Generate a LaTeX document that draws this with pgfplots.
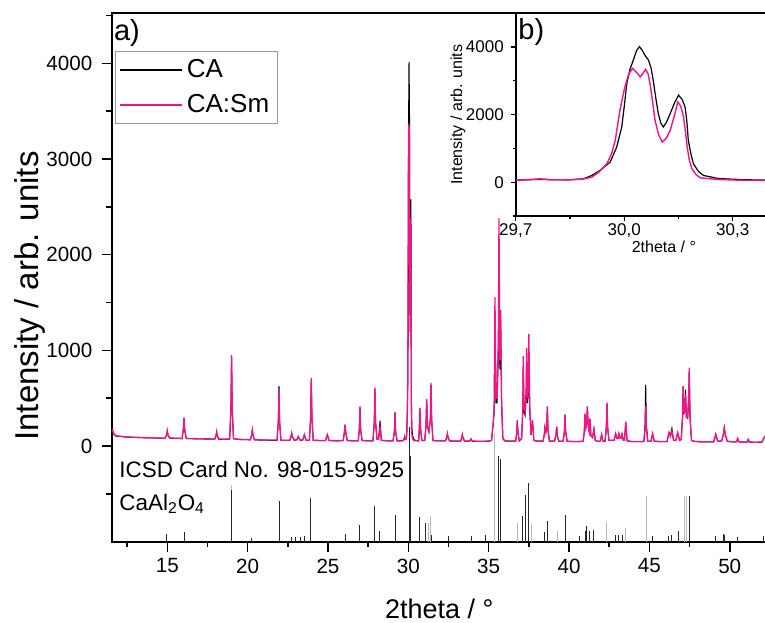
\documentclass[border=0pt]{standalone}
\usepackage{fontspec}
\setmainfont{Liberation Sans}
\usepackage{pgfplots}
\pgfplotsset{compat=1.18}
\usepackage{pgfplotstable}
\definecolor{smpink}{RGB}{245,20,135}

\pgfplotstableread{
x y
11.54 150
11.60 165
11.68 125
11.80 108
12.10 102
12.40 96
12.80 93
13.20 90
13.60 88
14.00 86
14.40 84
14.86 82
14.96 120
15.00 160
15.04 118
15.14 84
15.50 82
15.92 80
16.00 180
16.04 300
16.08 175
16.18 80
16.60 78
17.00 76
17.50 75
17.95 74
18.03 110
18.07 150
18.11 108
18.20 73
18.60 72
18.88 74
18.96 400
19.00 950
19.04 390
19.12 78
19.50 70
19.90 68
20.17 67
20.25 120
20.29 170
20.33 118
20.42 66
20.90 64
21.40 62
21.83 62
21.91 250
21.95 590
21.99 245
22.07 62
22.40 60
22.62 60
22.70 100
22.74 135
22.78 98
22.90 62
23.05 66
23.15 100
23.25 64
23.42 62
23.53 120
23.64 60
23.84 60
23.92 300
23.96 710
24.00 295
24.08 62
24.50 58
24.85 58
24.96 120
25.07 58
25.50 56
25.95 58
26.02 150
26.06 225
26.10 148
26.20 58
26.60 56
26.88 56
26.95 180
26.99 415
27.03 178
27.12 58
27.50 56
27.80 56
27.88 250
27.92 610
27.96 248
28.05 72
28.15 72
28.24 200
28.32 60
28.70 55
29.05 55
29.13 150
29.17 355
29.21 148
29.30 55
29.50 53
29.70 55
29.767 100
29.80 75
29.85 70
29.887 95
29.91 150
29.93 300
29.952 547
29.965 850
29.975 1240
29.988 2130
30.000 2750
30.012 3200
30.023 3370
30.034 3250
30.044 3120
30.052 3230
30.059 3340
30.066 3200
30.071 2925
30.078 2400
30.085 1834
30.095 1400
30.105 1190
30.116 1300
30.127 1536
30.138 1950
30.148 2378
30.156 2250
30.163 1982
30.168 1600
30.174 1040
30.180 650
30.187 398
30.198 230
30.21 130
30.26 80
30.32 60
30.40 55
30.64 54
30.68 180
30.72 400
30.76 178
30.84 58
31.02 60
31.10 220
31.14 490
31.20 200
31.28 150
31.37 280
31.41 660
31.45 280
31.53 58
31.90 55
32.31 55
32.39 90
32.43 130
32.47 90
32.56 55
33.00 52
33.25 52
33.32 85
33.36 120
33.40 85
33.50 52
33.82 52
33.90 75
33.98 52
34.50 50
35.00 52
35.18 60
35.29 270
35.34 400
35.39 1560
35.45 500
35.52 500
35.60 1100
35.64 2380
35.69 900
35.75 1420
35.80 500
35.88 80
36.00 55
36.40 52
36.68 52
36.75 150
36.78 270
36.82 150
36.90 55
37.05 80
37.12 400
37.15 940
37.20 400
37.27 350
37.33 600
37.36 1025
37.41 500
37.46 600
37.50 1170
37.55 450
37.63 120
37.73 270
37.81 60
38.00 52
38.38 52
38.46 120
38.50 200
38.56 150
38.61 200
38.65 415
38.69 170
38.78 52
39.10 52
39.19 120
39.23 205
39.27 110
39.36 52
39.63 50
39.71 150
39.75 330
39.79 150
39.88 50
40.30 48
40.60 48
40.87 50
40.95 150
40.99 340
41.05 200
41.10 250
41.14 415
41.20 200
41.26 150
41.30 290
41.36 110
41.46 90
41.55 180
41.63 60
41.80 50
41.94 50
42.03 120
42.10 55
42.24 50
42.32 200
42.36 455
42.40 200
42.48 60
42.80 60
42.90 130
42.98 80
43.05 80
43.10 130
43.18 85
43.25 85
43.30 125
43.38 60
43.45 60
43.53 255
43.61 55
43.90 48
44.30 48
44.66 48
44.73 180
44.77 420
44.81 180
44.90 50
45.10 50
45.20 130
45.30 50
45.70 48
46.10 48
46.22 140
46.30 100
46.40 160
46.50 60
46.65 60
46.76 140
46.88 60
46.98 70
47.06 300
47.10 625
47.15 350
47.20 350
47.25 540
47.30 300
47.38 300
47.44 500
47.48 820
47.53 300
47.62 60
47.80 50
48.20 45
48.60 45
49.00 45
49.13 125
49.25 50
49.50 55
49.60 120
49.66 190
49.72 120
49.85 50
50.20 45
50.42 45
50.49 80
50.56 45
50.90 42
51.08 42
51.15 70
51.22 42
51.60 40
52.00 42
52.15 90
52.30 130
}\casm

\pgfplotstableread{
x y
11.54 145
11.60 160
11.68 122
11.80 104
12.10 100
12.40 94
12.80 92
13.20 88
13.60 86
14.00 85
14.40 83
14.86 80
14.96 118
15.00 155
15.04 115
15.14 82
15.50 80
15.92 78
16.00 175
16.04 290
16.08 170
16.18 78
16.60 76
17.00 74
17.50 73
17.95 72
18.03 105
18.07 145
18.11 105
18.20 71
18.60 70
18.88 72
18.96 390
19.00 920
19.04 380
19.12 76
19.50 68
19.90 66
20.17 65
20.25 115
20.29 165
20.33 115
20.42 64
20.90 62
21.40 60
21.83 60
21.91 260
21.95 625
21.99 255
22.07 60
22.40 58
22.62 58
22.70 98
22.74 130
22.78 96
22.90 60
23.05 64
23.15 96
23.25 62
23.42 60
23.53 115
23.64 58
23.84 58
23.92 295
23.96 695
24.00 290
24.08 60
24.50 56
24.85 56
24.96 115
25.07 56
25.50 54
25.95 56
26.02 145
26.06 220
26.10 145
26.20 56
26.60 54
26.88 54
26.95 175
26.99 405
27.03 175
27.12 56
27.50 54
27.80 54
27.88 245
27.92 600
27.96 245
28.05 75
28.15 80
28.24 265
28.32 60
28.70 53
29.05 53
29.13 148
29.17 350
29.21 146
29.30 53
29.50 55
29.70 60
29.77 85
29.80 70
29.85 75
29.887 100
29.91 200
29.933 350
29.961 595
29.979 1040
29.993 1635
30.000 2250
30.007 2925
30.016 3350
30.025 3615
30.034 3900
30.042 4012
30.050 3900
30.058 3740
30.067 3615
30.074 3380
30.080 3022
30.087 2500
30.094 2033
30.101 1750
30.108 1635
30.117 1780
30.127 2033
30.139 2350
30.150 2577
30.160 2450
30.168 2229
30.173 1800
30.177 1240
30.184 850
30.191 547
30.205 320
30.219 200
30.26 110
30.33 75
30.40 60
30.64 52
30.68 175
30.72 390
30.76 175
30.84 56
31.02 58
31.10 215
31.14 480
31.20 195
31.28 150
31.37 275
31.41 640
31.45 275
31.53 56
31.90 53
32.31 53
32.39 88
32.43 128
32.47 88
32.56 53
33.00 50
33.25 50
33.32 82
33.36 118
33.40 82
33.50 50
33.82 50
33.90 72
33.98 50
34.50 48
35.00 50
35.18 58
35.29 250
35.34 350
35.39 1300
35.45 450
35.52 450
35.60 950
35.64 2000
35.69 800
35.75 1200
35.80 450
35.88 78
36.00 53
36.40 50
36.68 50
36.75 145
36.78 260
36.82 145
36.90 53
37.05 78
37.12 350
37.15 800
37.20 350
37.27 320
37.33 520
37.36 870
37.41 450
37.46 520
37.50 1000
37.55 400
37.63 115
37.73 255
37.81 58
38.00 50
38.38 50
38.46 118
38.50 195
38.56 145
38.61 190
38.65 400
38.69 165
38.78 50
39.10 50
39.19 118
39.23 200
39.27 108
39.36 50
39.63 48
39.71 148
39.75 325
39.79 148
39.88 48
40.30 46
40.60 46
40.87 48
40.95 145
40.99 330
41.05 195
41.10 240
41.14 400
41.20 195
41.26 148
41.30 280
41.36 108
41.46 88
41.55 175
41.63 58
41.80 48
41.94 48
42.03 118
42.10 53
42.24 48
42.32 195
42.36 440
42.40 195
42.48 58
42.80 58
42.90 128
42.98 78
43.05 78
43.10 128
43.18 82
43.25 82
43.30 122
43.38 58
43.45 58
43.53 245
43.61 53
43.90 46
44.30 46
44.66 46
44.73 230
44.77 640
44.81 230
44.90 48
45.10 48
45.20 128
45.30 48
45.70 46
46.10 46
46.22 138
46.30 105
46.40 185
46.50 58
46.65 58
46.76 138
46.88 58
46.98 68
47.06 290
47.10 615
47.15 345
47.20 360
47.25 590
47.30 300
47.38 290
47.44 470
47.48 770
47.53 290
47.62 58
47.80 48
48.20 43
48.60 43
49.00 43
49.13 122
49.25 48
49.50 53
49.60 118
49.66 195
49.72 118
49.85 48
50.20 43
50.42 43
50.49 78
50.56 43
50.90 40
51.08 40
51.15 68
51.22 40
51.60 38
52.00 40
52.15 88
52.30 125
}\ca

\begin{document}
\begin{tikzpicture}
\path[use as bounding box] (-55.85pt,-40.15pt) rectangle (326.65pt,270.85pt);
\begin{axis}[
  name=main, at={(0pt,0pt)}, anchor=south west,
  scale only axis, width=327.5pt, height=264.2pt,
  xmin=11.54, xmax=52.30, ymin=-1000, ymax=4523,
  xtick={15,20,...,50}, minor xtick={12.5,17.5,...,47.5},
  ytick={0,1000,...,4000}, minor ytick={-500,500,...,4500},
  tick pos=left, tick align=outside,
  major tick length=5pt, minor tick length=2.6pt,
  every tick/.style={black, line width=0.8pt},
  axis line style={line width=1pt},
  tick label style={font=\fontsize{10.3}{12}\selectfont},
  yticklabel style={xshift=-1.2pt},
  /pgf/number format/assume math mode=true,
  /pgf/number format/set thousands separator={},
  xlabel={2theta / °}, ylabel={Intensity / arb. units},
  xlabel style={font=\fontsize{13.5}{16}\selectfont, at={(axis description cs:0.5,-0.127)}, anchor=center},
  ylabel style={font=\fontsize{16.5}{20}\selectfont, at={(axis description cs:-0.125,0.465)}, anchor=center},
  legend style={at={(axis description cs:0.005,0.9287)}, anchor=north west,
    draw=gray!80, font=\fontsize{13}{15}\selectfont,
    inner sep=2pt, row sep=3pt},
  legend cell align=left,
  legend image post style={xscale=1.82, line width=0.65pt},
]
\addplot[gray!55, line width=0.5pt, unbounded coords=jump, forget plot] coordinates {
(19.00,-1000) (19.00,-410) (19.00,nan)
(31.25,-1000) (31.25,-800) (31.25,nan)
(31.39,-1000) (31.39,-735) (31.39,nan)
(35.39,-1000) (35.39,130) (35.39,nan)
(36.78,-1000) (36.78,-800) (36.78,nan)
(37.67,-1000) (37.67,-810) (37.67,nan)
(39.27,-1000) (39.27,-890) (39.27,nan)
(42.30,-1000) (42.30,-790) (42.30,nan)
(43.50,-1000) (43.50,-860) (43.50,nan)
(44.80,-1000) (44.80,-520) (44.80,nan)
(47.20,-1000) (47.20,-520) (47.20,nan)
(47.30,-1000) (47.30,-520) (47.30,nan)
};
\addplot[black!85, line width=0.5pt, unbounded coords=jump, forget plot] coordinates {
(14.96,-1000) (14.96,-920) (14.96,nan)
(16.04,-1000) (16.04,-895) (16.04,nan)
(19.00,-1000) (19.00,-460) (19.00,nan)
(20.25,-1000) (20.25,-960) (20.25,nan)
(21.97,-1000) (21.97,-575) (21.97,nan)
(22.70,-1000) (22.70,-950) (22.70,nan)
(23.00,-1000) (23.00,-955) (23.00,nan)
(23.30,-1000) (23.30,-950) (23.30,nan)
(23.55,-1000) (23.55,-945) (23.55,nan)
(23.94,-1000) (23.94,-547) (23.94,nan)
(26.06,-1000) (26.06,-920) (26.06,nan)
(26.95,-1000) (26.95,-825) (26.95,nan)
(27.87,-1000) (27.87,-630) (27.87,nan)
(28.20,-1000) (28.20,-890) (28.20,nan)
(29.19,-1000) (29.19,-725) (29.19,nan)
(30.05,-1000) (30.05,200) (30.05,nan)
(30.15,-1000) (30.15,-100) (30.15,nan)
(30.72,-1000) (30.72,-738) (30.72,nan)
(31.08,-1000) (31.08,-800) (31.08,nan)
(31.45,-1000) (31.45,-930) (31.45,nan)
(32.48,-1000) (32.48,-945) (32.48,nan)
(33.93,-1000) (33.93,-945) (33.93,nan)
(34.80,-1000) (34.80,-925) (34.80,nan)
(35.62,-1000) (35.62,-100) (35.62,nan)
(35.75,-1000) (35.75,-136) (35.75,nan)
(37.11,-1000) (37.11,-735) (37.11,nan)
(37.32,-1000) (37.32,-510) (37.32,nan)
(37.47,-1000) (37.47,-390) (37.47,nan)
(38.50,-1000) (38.50,-900) (38.50,nan)
(38.67,-1000) (38.67,-780) (38.67,nan)
(39.75,-1000) (39.75,-720) (39.75,nan)
(40.65,-1000) (40.65,-940) (40.65,nan)
(41.00,-1000) (41.00,-890) (41.00,nan)
(41.10,-1000) (41.10,-840) (41.10,nan)
(41.27,-1000) (41.27,-890) (41.27,nan)
(41.50,-1000) (41.50,-880) (41.50,nan)
(42.90,-1000) (42.90,-930) (42.90,nan)
(43.10,-1000) (43.10,-935) (43.10,nan)
(43.30,-1000) (43.30,-930) (43.30,nan)
(45.20,-1000) (45.20,-940) (45.20,nan)
(46.20,-1000) (46.20,-940) (46.20,nan)
(46.35,-1000) (46.35,-935) (46.35,nan)
(46.80,-1000) (46.80,-890) (46.80,nan)
(47.48,-1000) (47.48,-520) (47.48,nan)
(49.10,-1000) (49.10,-940) (49.10,nan)
(49.60,-1000) (49.60,-915) (49.60,nan)
(49.70,-1000) (49.70,-930) (49.70,nan)
(50.50,-1000) (50.50,-950) (50.50,nan)
(52.10,-1000) (52.10,-940) (52.10,nan)
};
\addplot[black, line width=0.5pt] table[x=x,y=y] {\ca};
\addlegendentry{CA}
\addplot[color=smpink, line width=0.65pt] table[x=x,y=y] {\casm};
\addlegendentry{CA:Sm}
\node[anchor=north west, inner sep=0pt, font=\fontsize{14.5}{17}\selectfont] at (axis description cs:0.003,0.989) {a)};
\node[anchor=base west, inner sep=0pt, font=\fontsize{11.2}{14}\selectfont] at (axis cs:12.0,-327) {ICSD Card No. 98-015-9925};
\node[anchor=base west, inner sep=0pt, font=\fontsize{11.2}{14}\selectfont] at (axis cs:12.0,-673) {CaAl\textsubscript{2}O\textsubscript{4}};
\end{axis}

\begin{axis}[
  at={(202pt,162.85pt)}, anchor=south west,
  scale only axis, width=125.5pt, height=101.35pt,
  xmin=29.7, xmax=30.394, ymin=-1000, ymax=5000,
  axis background/.style={fill=white},
  xtick={29.7,30.0,30.3}, minor xtick={29.85,30.15},
  ytick={0,2000,4000}, minor ytick={-1000,1000,3000},
  tick pos=left, tick align=outside,
  major tick length=2.5pt, minor tick length=1.5pt,
  every tick/.style={black, line width=0.6pt},
  axis line style={line width=0.8pt},
  tick label style={font=\fontsize{8.5}{10}\selectfont},
  /pgf/number format/assume math mode=true,
  /pgf/number format/set thousands separator={},
  xticklabel style={yshift=2pt, /pgf/number format/.cd, fixed, fixed zerofill, precision=1, use comma},
  xlabel={2theta / °}, ylabel={Intensity / arb. units},
  label style={font=\fontsize{8}{10}\selectfont},
  xlabel style={at={(axis description cs:0.59,-0.15)}, anchor=center},
  ylabel style={at={(axis description cs:-0.23,0.5)}, anchor=center},
]
\addplot[black, line width=0.6pt] table[x=x,y=y] {\ca};
\addplot[smpink, line width=0.7pt] table[x=x,y=y] {\casm};
\node[anchor=north west, inner sep=0pt, font=\fontsize{14.5}{17}\selectfont] at (axis description cs:0.009,0.975) {b)};
\end{axis}
\end{tikzpicture}
\end{document}
